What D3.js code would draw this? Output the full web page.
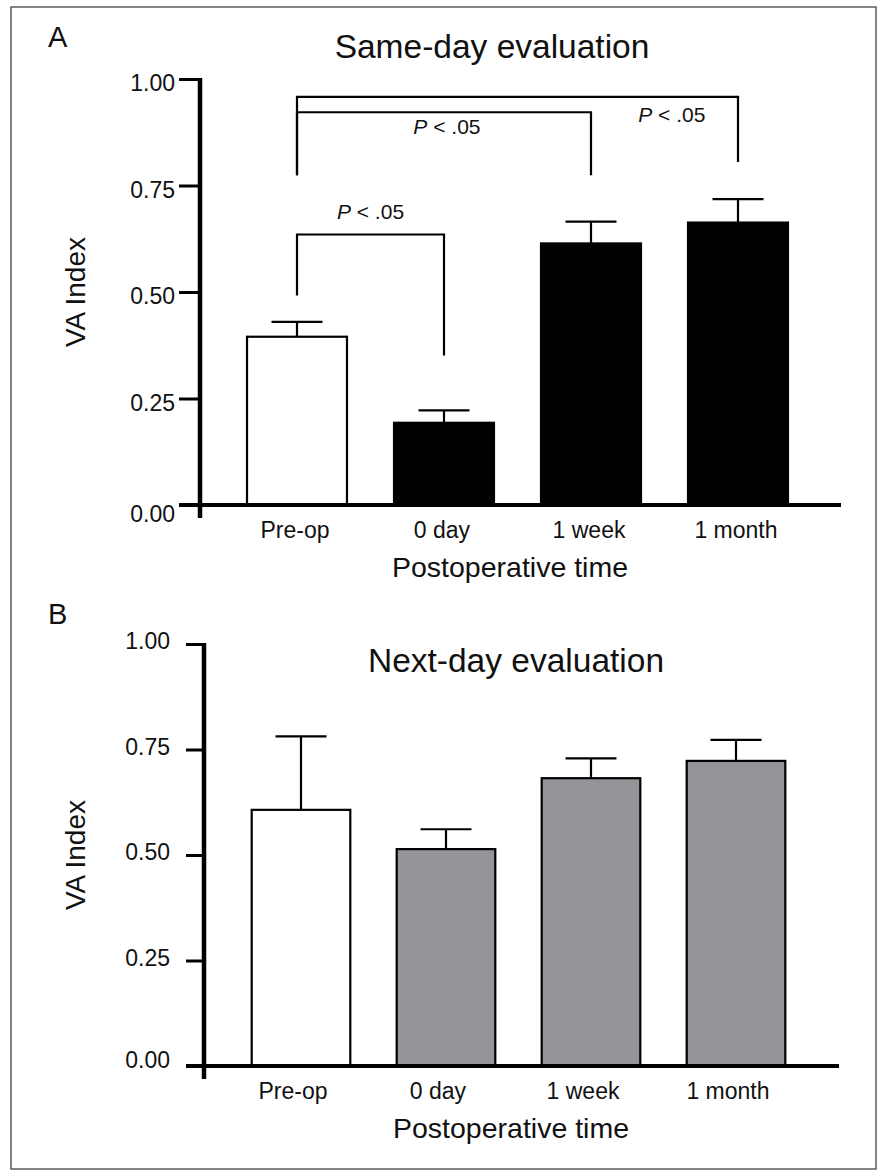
<!DOCTYPE html>
<html>
<head>
<meta charset="utf-8">
<script src="https://cdn.jsdelivr.net/npm/d3@7"></script>
<style>
  body { margin: 0; background: #fff; }
  svg text { font-family: "Liberation Sans", Arial, Helvetica, sans-serif; fill: #111; }
</style>
</head>
<body>
<svg id="chart" width="880" height="1176"></svg>
<script>
// values
var categories = ["Pre-op", "0 day", "1 week", "1 month"];
var yTicks = [0, 0.25, 0.5, 0.75, 1];

var sameDayMean = [0.395, 0.193, 0.614, 0.663];
var sameDayErr  = [0.035, 0.029, 0.051, 0.055];
var sameDayFill = ["#fff", "#000", "#000", "#000"];

var nextDayMean = [0.607, 0.514, 0.682, 0.723];
var nextDayErr  = [0.174, 0.047, 0.047, 0.050];
var nextDayFill = ["#fff", "#939598", "#939598", "#939598"];

// significance brackets (same-day panel only)
var brFrom  = [0, 0, 0];
var brTo    = [3, 2, 1];
var brTop   = [0.958, 0.922, 0.635];
var brLeft  = [0.774, 0.774, 0.492];
var brRight = [0.805, 0.774, 0.351];
var brLabelPos = [2.55, 1.02, 0.5];
var brLabelY   = [0.900, 0.871, 0.671];

var svg = d3.select("#chart");

// outer frame
svg.append("rect")
    .attr("x", 11).attr("y", 7)
    .attr("width", 865).attr("height", 1162)
    .attr("fill", "none").attr("stroke", "#444").attr("stroke-width", 1.3);

function drawPanel(opt) {
    var g = svg.append("g");
    var y = d3.scaleLinear().domain([0, 1]).range([opt.y0, opt.y1]);
    var x = d3.scaleBand().domain(categories)
            .range([opt.xStart, opt.xStart + 4 * opt.step])
            .paddingInner(0.32).paddingOuter(0.16);
    var cx = function(pos) {
        return x(categories[0]) + x.bandwidth() / 2 + pos * x.step();
    };

    // y ticks + labels
    var ax = g.append("g")
        .attr("transform", "translate(" + opt.axisX + ",0)")
        .call(d3.axisLeft(y).tickValues(yTicks)
            .tickFormat(d3.format(".2f"))
            .tickSize(opt.tickLen).tickPadding(opt.tickPad));
    ax.select(".domain").remove();
    ax.selectAll(".tick line").attr("stroke", "#000").attr("stroke-width", 3);
    ax.selectAll(".tick text")
        .attr("font-size", 23)
        .attr("dy", function(d) { return d === 0 ? opt.zeroDy : opt.labelDy; });

    // bars
    g.selectAll(".bar").data(opt.mean).enter().append("rect")
        .attr("x", function(d, i) { return x(categories[i]); })
        .attr("y", function(d) { return y(d); })
        .attr("width", x.bandwidth())
        .attr("height", function(d) { return y(0) - y(d); })
        .attr("fill", function(d, i) { return opt.fill[i]; })
        .attr("stroke", "#000").attr("stroke-width", 2.2);

    // error bars
    var eb = g.selectAll(".err").data(opt.mean).enter().append("g");
    eb.append("line")
        .attr("x1", function(d, i) { return cx(i); })
        .attr("x2", function(d, i) { return cx(i); })
        .attr("y1", function(d) { return y(d); })
        .attr("y2", function(d, i) { return y(d + opt.err[i]); })
        .attr("stroke", "#000").attr("stroke-width", 2.2);
    eb.append("line")
        .attr("x1", function(d, i) { return cx(i) - 25.5; })
        .attr("x2", function(d, i) { return cx(i) + 25.5; })
        .attr("y1", function(d, i) { return y(d + opt.err[i]); })
        .attr("y2", function(d, i) { return y(d + opt.err[i]); })
        .attr("stroke", "#000").attr("stroke-width", 2.2);

    // axis lines
    g.append("line")
        .attr("x1", opt.axisX).attr("x2", opt.axisX)
        .attr("y1", y(1) - 1).attr("y2", y(0) + 13)
        .attr("stroke", "#000").attr("stroke-width", 4.5);
    g.append("line")
        .attr("x1", opt.axisX - opt.tickLen).attr("x2", opt.xEnd)
        .attr("y1", y(0)).attr("y2", y(0))
        .attr("stroke", "#000").attr("stroke-width", 4);

    // category labels
    g.selectAll(".cat").data(categories).enter().append("text")
        .attr("x", function(d, i) { return cx(i) + opt.catShift; })
        .attr("y", y(0) + 33)
        .attr("text-anchor", "middle")
        .attr("font-size", 23)
        .text(function(d) { return d; });

    g.append("text")
        .attr("x", opt.xTitleX).attr("y", y(0) + 72)
        .attr("text-anchor", "middle").attr("font-size", 28.5)
        .text("Postoperative time");

    g.append("text")
        .attr("transform", "translate(85," + opt.yTitleY + ") rotate(-90)")
        .attr("text-anchor", "middle").attr("font-size", 28)
        .text("VA Index");

    g.append("text")
        .attr("x", opt.titleX).attr("y", opt.titleY)
        .attr("text-anchor", "middle").attr("font-size", 33.5)
        .text(opt.title);

    g.append("text")
        .attr("x", 48).attr("y", opt.letterY)
        .attr("font-size", 29)
        .text(opt.letter);

    return {x: x, y: y, cx: cx, g: g};
}

var A = drawPanel({
    letter: "A", letterY: 47, title: "Same-day evaluation", titleX: 492, titleY: 58,
    y0: 505, y1: 79, axisX: 200, xStart: 223.5, step: 147, xEnd: 841,
    tickLen: 21, tickPad: 4, labelDy: "0.5em", zeroDy: "0.72em", catShift: -2,
    xTitleX: 510, yTitleY: 292,
    mean: sameDayMean, err: sameDayErr, fill: sameDayFill
});

var B = drawPanel({
    letter: "B", letterY: 624, title: "Next-day evaluation", titleX: 516, titleY: 672,
    y0: 1066, y1: 644, axisX: 204, xStart: 228.5, step: 145, xEnd: 839,
    tickLen: 18, tickPad: 16, labelDy: "0.2em", zeroDy: "0.05em", catShift: -8,
    xTitleX: 511, yTitleY: 855,
    mean: nextDayMean, err: nextDayErr, fill: nextDayFill
});

// brackets
brFrom.forEach(function(f, k) {
    var xa = A.cx(f), xb = A.cx(brTo[k]);
    var pts = [[xa, A.y(brLeft[k])], [xa, A.y(brTop[k])], [xb, A.y(brTop[k])], [xb, A.y(brRight[k])]];
    A.g.append("path")
        .attr("d", d3.line()(pts))
        .attr("fill", "none").attr("stroke", "#000").attr("stroke-width", 2.2);
    var t = A.g.append("text")
        .attr("x", A.cx(brLabelPos[k])).attr("y", A.y(brLabelY[k]))
        .attr("text-anchor", "middle").attr("font-size", 21);
    t.append("tspan").attr("font-style", "italic").text("P");
    t.append("tspan").text(" < .05");
});
</script>
</body>
</html>
